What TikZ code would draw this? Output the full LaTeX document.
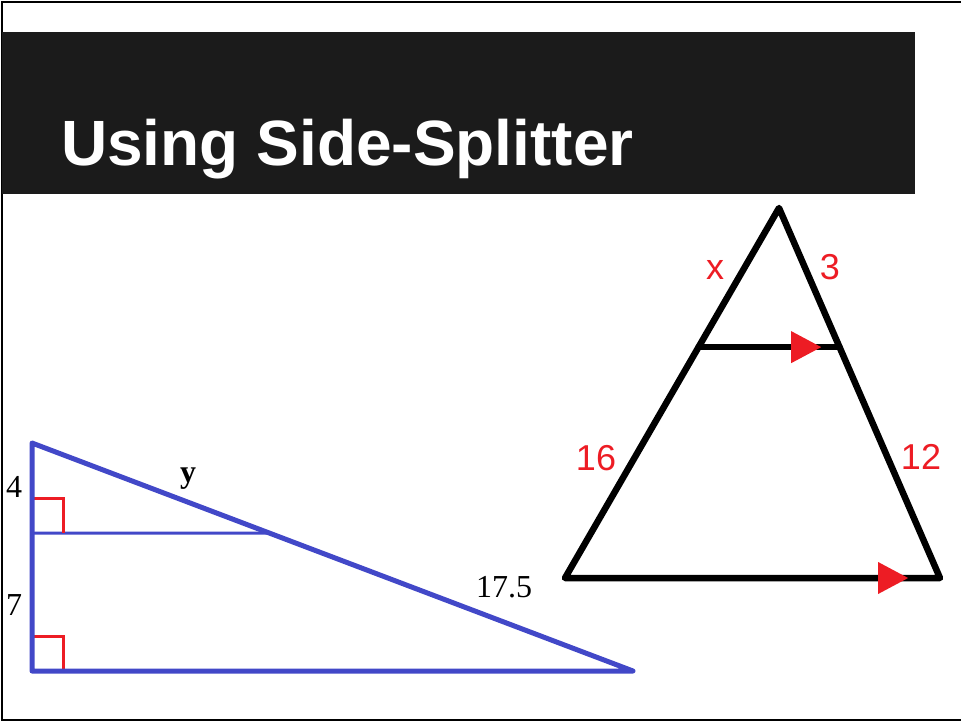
\documentclass[tikz,border=0pt]{standalone}
\usepackage{fontspec}
\setmainfont{Liberation Serif}
\newfontfamily\arialfont{Liberation Sans}
\usepackage{tikz}
\usetikzlibrary{calc}
\definecolor{barblack}{RGB}{27,27,27}
\definecolor{sideblue}{RGB}{66,72,200}
\definecolor{markred}{RGB}{237,28,36}

\begin{document}
\begin{tikzpicture}[
    x=1pt, y=-1pt,
    frame/.style={draw=black, line width=2pt},
    blueside/.style={draw=sideblue, line width=5pt, line cap=round, line join=round},
    bluesplit/.style={draw=sideblue, line width=3pt},
    rightmark/.style={draw=markred, line width=3pt},
    blackside/.style={draw=black, line width=6.5pt, line cap=round, line join=round},
    tipred/.style={fill=markred},
    numlabel/.style={font=\fontsize{32}{32}\selectfont, anchor=base, inner sep=0pt},
    redlabel/.style={font=\arialfont\fontsize{36}{36}\selectfont, text=markred, anchor=base, inner sep=0pt}
]
\useasboundingbox (0,0) rectangle (961,723);
\draw[frame] (961,2) -- (2,2) -- (2,720) -- (961,720);
% title bar
\fill[barblack] (2,32) rectangle (915,194);
\node[font=\arialfont\bfseries\fontsize{64}{64}\selectfont, text=white, anchor=base west, inner sep=0pt]
    (title) at (61,165) {Using Side-Splitter};

% left triangle
\coordinate (lt) at (32,443);
\coordinate (lb) at (32,671);
\coordinate (lr) at (633,671);
\coordinate (lm) at (32,533);
\coordinate (lh) at (intersection cs: first line={(lt)--(lr)}, second line={(lm)--(600,533)});
\draw[bluesplit] (lm) -- (lh);
\draw[rightmark] ($(lm)+(0,-35)$) -| ($(lm)+(31,0)$);
\draw[rightmark] ($(lb)+(0,-35)$) -| ($(lb)+(31,0)$);
\draw[blueside] (lt) -- (lb) -- (lr) -- cycle;
\node[numlabel] (four) at (14,497) {4};
\node[numlabel] (seven) at (14,615) {7};
\node[numlabel, font=\bfseries\fontsize{32}{32}\selectfont] (yside) at (188,482) {y};
\node[numlabel] (hyp) at (504,597) {17.5};

% right triangle
\coordinate (ra) at (779,208);
\coordinate (rl) at (565,578);
\coordinate (rr) at (940,578);
\coordinate (ml) at ($(ra)!0.376!(rl)$);
\coordinate (mr) at ($(ra)!0.376!(rr)$);
\draw[blackside] (ml) -- (mr);
\draw[blackside] (ra) -- (rl) -- (rr) -- cycle;
\fill[tipred] ($(ml)!0.87!(mr)$) -- ++(-30,-16) -- ++(0,32) -- cycle;
\fill[tipred] ($(rl)!0.915!(rr)$) -- ++(-30,-16) -- ++(0,32) -- cycle;
\node[redlabel] (xside) at (715,279) {x};
\node[redlabel] (three) at (830,279) {3};
\node[redlabel] (sixteen) at (596,470) {16};
\node[redlabel] (twelve) at (921,469) {12};
\end{tikzpicture}
\end{document}
